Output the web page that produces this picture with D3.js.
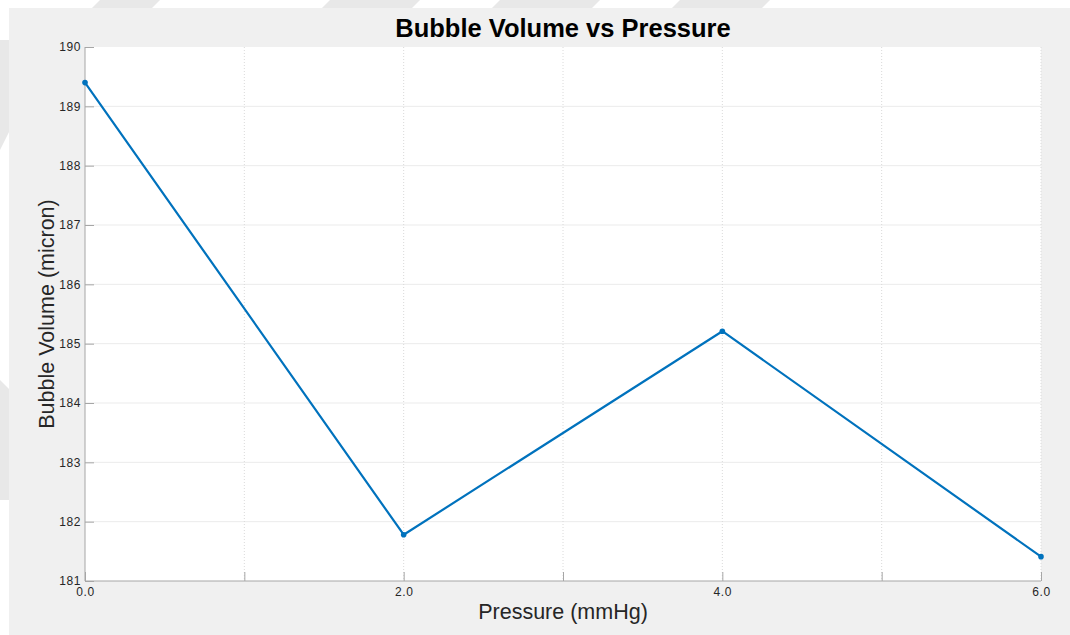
<!DOCTYPE html>
<html lang="en">
<head>
    <meta charset="UTF-8">
    <title>Bubble Volume vs Pressure</title>
    <script src="https://d3js.org/d3.v7.min.js"></script>
    <style>
        body {
            margin: 0;
            background: #ffffff;
            font-family: "Liberation Sans", Arial, sans-serif;
        }
        svg {
            display: block;
        }
        .tick text {
            fill: #262626;
            font-size: 12px;
            letter-spacing: 0.6px;
            font-family: "Liberation Sans", Arial, sans-serif;
        }
    </style>
</head>
<body>
    <svg id="chart"></svg>
    <script>
        // data
        const pressure = [0, 2, 4, 6];
        const volume = [189.4, 181.78, 185.21, 181.41];
        const xTicks = [0, 1, 2, 3, 4, 5, 6];
        const xTickLabels = ["0.0", "", "2.0", "", "4.0", "", "6.0"];
        const yTicks = [181, 182, 183, 184, 185, 186, 187, 188, 189, 190];

        const width = 1070, height = 635;
        const margin = { top: 47, right: 29, bottom: 54, left: 85 };

        const svg = d3.select("#chart").attr("width", width).attr("height", height);

        // faint watermark stripes behind the figure panel
        const stripes = [
            [[100, 0], [160, 0], [120, 40], [60, 40]],
            [[330, 0], [420, 0], [380, 40], [290, 40]],
            [[500, 0], [600, 0], [560, 40], [460, 40]],
            [[680, 0], [770, 0], [730, 40], [640, 40]],
            [[0, 40], [10, 40], [10, 130], [0, 150]],
            [[0, 380], [10, 390], [10, 500], [0, 500]]
        ];
        svg.selectAll(".stripe")
            .data(stripes)
            .enter()
            .append("polygon")
            .attr("class", "stripe")
            .attr("points", d => d.map(p => p.join(",")).join(" "))
            .attr("fill", "#e8e8e8");

        // grey figure panel
        svg.append("rect")
            .attr("x", 9).attr("y", 8)
            .attr("width", width - 9).attr("height", height - 8)
            .attr("fill", "#f0f0f0");

        const x = d3.scaleLinear()
            .domain([0, 6])
            .range([margin.left, width - margin.right]);

        const y = d3.scaleLinear()
            .domain([181, 190])
            .range([height - margin.bottom, margin.top]);

        // white axes area
        svg.append("rect")
            .attr("x", x(0)).attr("y", y(190))
            .attr("width", x(6) - x(0)).attr("height", y(181) - y(190))
            .attr("fill", "#ffffff");

        // horizontal grid
        svg.append("g")
            .selectAll("line")
            .data(yTicks.slice(1, -1))
            .enter()
            .append("line")
            .attr("x1", x(0)).attr("x2", x(6))
            .attr("y1", d => y(d)).attr("y2", d => y(d))
            .attr("stroke", "#ebebeb")
            .attr("stroke-width", 1);

        // vertical grid (dotted)
        svg.append("g")
            .selectAll("line")
            .data(xTicks.slice(1))
            .enter()
            .append("line")
            .attr("x1", d => x(d)).attr("x2", d => x(d))
            .attr("y1", y(190)).attr("y2", y(181))
            .attr("stroke", "#dadada")
            .attr("stroke-width", 1)
            .attr("stroke-dasharray", "1,2");

        // x axis
        const xAxis = svg.append("g")
            .attr("transform", `translate(0,${y(181)})`)
            .call(d3.axisBottom(x)
                .tickValues(xTicks)
                .tickSize(-9)
                .tickPadding(6)
                .tickFormat((d, i) => xTickLabels[i]));
        xAxis.select(".domain").attr("stroke", "#a6a6a6").attr("d", `M${x(0)},0H${x(6)}`);
        xAxis.selectAll(".tick line").attr("stroke", "#a6a6a6");

        // y axis
        const yAxis = svg.append("g")
            .attr("transform", `translate(${x(0)},0)`)
            .call(d3.axisLeft(y)
                .tickValues(yTicks)
                .tickSize(-9)
                .tickPadding(4)
                .tickFormat(d3.format("d")));
        yAxis.select(".domain").attr("stroke", "#a6a6a6").attr("d", `M0,${y(190)}V${y(181)}`);
        yAxis.selectAll(".tick line").attr("stroke", "#a6a6a6");

        // data line
        const pts = pressure.map((p, i) => ({ p: p, v: volume[i] }));
        svg.append("path")
            .datum(pts)
            .attr("fill", "none")
            .attr("stroke", "#0072bd")
            .attr("stroke-width", 2.2)
            .attr("stroke-linejoin", "round")
            .attr("d", d3.line().x(d => x(d.p)).y(d => y(d.v)));

        svg.selectAll(".pt")
            .data(pts)
            .enter()
            .append("circle")
            .attr("class", "pt")
            .attr("cx", d => x(d.p))
            .attr("cy", d => y(d.v))
            .attr("r", 2.8)
            .attr("fill", "#0072bd");

        // title and labels
        svg.append("text")
            .attr("x", (x(0) + x(6)) / 2)
            .attr("y", 37)
            .attr("text-anchor", "middle")
            .attr("font-size", "25.5px")
            .attr("font-weight", "bold")
            .attr("fill", "#000000")
            .text("Bubble Volume vs Pressure");

        svg.append("text")
            .attr("x", (x(0) + x(6)) / 2)
            .attr("y", 619)
            .attr("text-anchor", "middle")
            .attr("font-size", "21.5px")
            .attr("fill", "#262626")
            .text("Pressure (mmHg)");

        svg.append("text")
            .attr("transform", `translate(54,${(y(181) + y(190)) / 2}) rotate(-90)`)
            .attr("text-anchor", "middle")
            .attr("font-size", "21.5px")
            .attr("fill", "#262626")
            .text("Bubble Volume (micron)");
    </script>
</body>
</html>
